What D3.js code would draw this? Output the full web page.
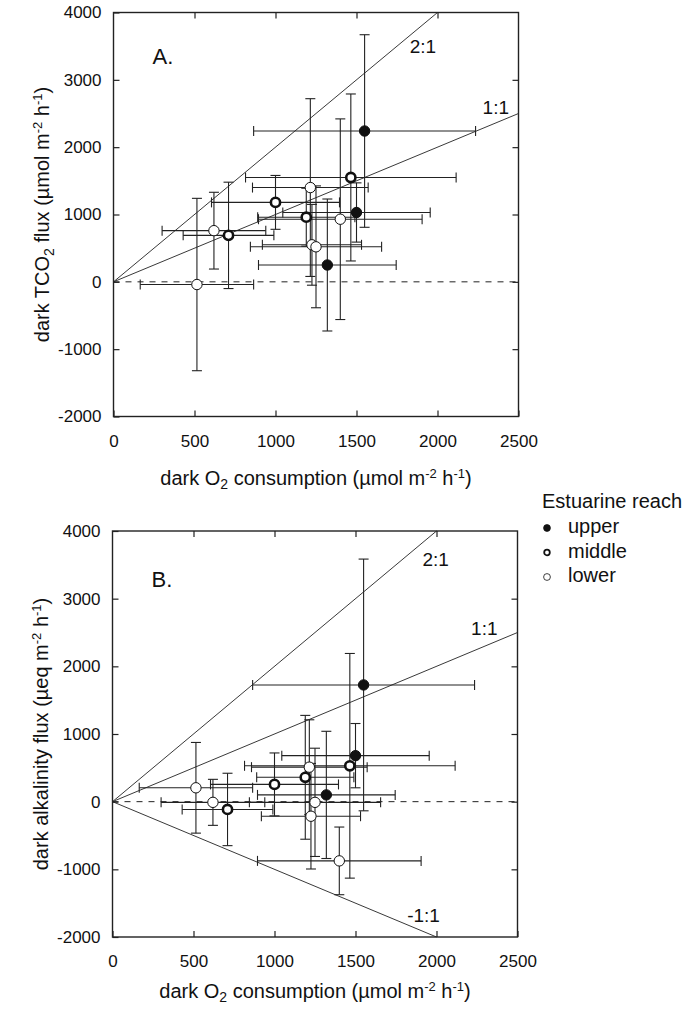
<!DOCTYPE html>
<html>
<head>
<meta charset="utf-8">
<script src="https://cdn.jsdelivr.net/npm/d3@7"></script>
<style>
  body { margin: 0; background: #fff; }
  svg { font-family: "Liberation Sans", Arial, sans-serif; }
  .tick text { font-size: 17px; fill: #111; }
</style>
</head>
<body>
<svg id="chart" width="700" height="1011"></svg>
<script>
// stations: estuarine reach, dark O2 consumption (mean, sd), TCO2 flux and alkalinity flux (mean, sd)
const reach = ["upper", "upper", "upper", "middle", "middle", "middle", "middle", "lower", "lower", "lower", "lower", "lower", "lower"];
const o2 = [1550, 1500, 1320, 1465, 1000, 1190, 710, 1215, 1400, 620, 1225, 1250, 515];
const o2Sd = [685, 455, 425, 650, 395, 300, 280, 357, 505, 320, 306, 405, 350];
const tco2 = [2240, 1030, 250, 1550, 1180, 960, 690, 1400, 930, 760, 550, 520, -40];
const tco2Sd = [1430, 440, 980, 1240, 400, 430, 790, 1320, 1490, 570, 600, 905, 1280];
const alk = [1725, 680, 100, 530, 255, 360, -115, 510, -875, -10, -215, -10, 205];
const alkSd = [1860, 475, 940, 1660, 465, 915, 535, 700, 500, 340, 780, 800, 670];

const xTicks = [0, 500, 1000, 1500, 2000, 2500];
const yTicks = [4000, 3000, 2000, 1000, 0, -1000, -2000];
const reachNames = ["upper", "middle", "lower"];

const svg = d3.select("#chart");

const markStyle = {
    upper: { fill: "#111", stroke: "#111", sw: 1 },
    middle: { fill: "#fff", stroke: "#111", sw: 2.6 },
    lower: { fill: "#fff", stroke: "#111", sw: 1 }
};

// plain hyphen for negatives, like the original figure
const fmt = d => String(d);

function drawPanel(cfg) {
    let vis = {};
    vis.width = 405;
    vis.height = cfg.height;

    vis.chart = svg.append("g").attr("transform", `translate(${cfg.left},${cfg.top})`);

    vis.xScale = d3.scaleLinear().domain([0, 2500]).range([0, vis.width]);
    vis.yScale = d3.scaleLinear().domain([-2000, 4000]).range([vis.height, 0]);

    // axes with inward ticks on all four sides
    vis.chart.append("g")
        .attr("transform", `translate(0,${vis.height})`)
        .call(d3.axisBottom(vis.xScale).tickValues(xTicks).tickSize(-6).tickPadding(18).tickFormat(fmt))
        .call(g => g.select(".domain").remove());
    vis.chart.append("g")
        .call(d3.axisTop(vis.xScale).tickValues(xTicks.slice(1, -1)).tickSize(-6).tickFormat(""))
        .call(g => g.select(".domain").remove());
    vis.chart.append("g")
        .call(d3.axisLeft(vis.yScale).tickValues(yTicks).tickSize(-6).tickPadding(12).tickFormat(fmt))
        .call(g => g.select(".domain").remove());
    vis.chart.append("g")
        .attr("transform", `translate(${vis.width},0)`)
        .call(d3.axisRight(vis.yScale).tickValues(yTicks.slice(1, -1)).tickSize(-6).tickFormat(""))
        .call(g => g.select(".domain").remove());
    vis.chart.selectAll(".tick line").attr("stroke", "#222").attr("stroke-width", 1.2);

    vis.chart.append("rect")
        .attr("width", vis.width).attr("height", vis.height)
        .attr("fill", "none").attr("stroke", "#222").attr("stroke-width", 1.4);

    // zero line
    vis.chart.append("line")
        .attr("x1", vis.xScale(0)).attr("x2", vis.xScale(2500))
        .attr("y1", vis.yScale(0)).attr("y2", vis.yScale(0))
        .attr("stroke", "#222").attr("stroke-width", 1)
        .attr("stroke-dasharray", "6,6");

    // ratio lines
    cfg.ratios.forEach(r => {
        vis.chart.append("line")
            .attr("x1", vis.xScale(0)).attr("y1", vis.yScale(0))
            .attr("x2", vis.xScale(r.end[0])).attr("y2", vis.yScale(r.end[1]))
            .attr("stroke", "#222").attr("stroke-width", 0.9);
        vis.chart.append("text")
            .attr("x", vis.xScale(r.label[0])).attr("y", vis.yScale(r.label[1]))
            .attr("text-anchor", "middle").attr("dy", "0.35em")
            .attr("font-size", 19).attr("fill", "#111")
            .text(r.text);
    });

    vis.chart.append("text")
        .attr("x", 39).attr("y", cfg.tagY)
        .attr("font-size", 22).attr("fill", "#111")
        .text(cfg.tag);

    // error bars
    let cap = 5;
    let bars = vis.chart.append("g").attr("stroke", "#222").attr("stroke-width", 1.1);
    o2.forEach((xv, i) => {
        let yv = cfg.yVals[i], ys = cfg.ySd[i], xs = o2Sd[i];
        let cx = vis.xScale(xv), cy = vis.yScale(yv);
        let xl = vis.xScale(xv - xs), xr = vis.xScale(xv + xs);
        let yt = vis.yScale(yv + ys), yb = vis.yScale(yv - ys);
        bars.append("line").attr("x1", xl).attr("x2", xr).attr("y1", cy).attr("y2", cy);
        bars.append("line").attr("x1", xl).attr("x2", xl).attr("y1", cy - cap).attr("y2", cy + cap);
        bars.append("line").attr("x1", xr).attr("x2", xr).attr("y1", cy - cap).attr("y2", cy + cap);
        bars.append("line").attr("x1", cx).attr("x2", cx).attr("y1", yt).attr("y2", yb);
        bars.append("line").attr("x1", cx - cap).attr("x2", cx + cap).attr("y1", yt).attr("y2", yt);
        bars.append("line").attr("x1", cx - cap).attr("x2", cx + cap).attr("y1", yb).attr("y2", yb);
    });

    // points
    vis.chart.selectAll(".pt")
        .data(o2.map((xv, i) => ({ x: xv, y: cfg.yVals[i], reach: reach[i] })))
        .join("circle")
        .attr("class", "pt")
        .attr("cx", d => vis.xScale(d.x))
        .attr("cy", d => vis.yScale(d.y))
        .attr("r", d => d.reach == "middle" ? 4.6 : 5.2)
        .attr("fill", d => markStyle[d.reach].fill)
        .attr("stroke", d => markStyle[d.reach].stroke)
        .attr("stroke-width", d => markStyle[d.reach].sw);

    // axis titles
    vis.chart.append("text")
        .attr("x", vis.width / 2).attr("y", vis.height + cfg.xTitleGap)
        .attr("text-anchor", "middle").attr("font-size", 20).attr("fill", "#111")
        .html('dark O<tspan font-size="14" dy="4">2</tspan><tspan dy="-4"> consumption (µmol m</tspan><tspan font-size="13" dy="-7">-2</tspan><tspan dy="7"> h</tspan><tspan font-size="13" dy="-7">-1</tspan><tspan dy="7">)</tspan>');

    vis.chart.append("text")
        .attr("transform", `translate(-65,${vis.height / 2}) rotate(-90)`)
        .attr("text-anchor", "middle").attr("font-size", 20).attr("fill", "#111")
        .html(cfg.yLabel);

    return vis;
}

drawPanel({
    left: 113.5, top: 12.5, height: 404, xTitleGap: 68,
    tag: "A.", tagY: 51,
    yVals: tco2, ySd: tco2Sd,
    ratios: [
        { end: [2000, 4000], label: [1910, 3490], text: "2:1" },
        { end: [2500, 2500], label: [2360, 2590], text: "1:1" }
    ],
    yLabel: 'dark TCO<tspan font-size="14" dy="5">2</tspan><tspan dy="-5"> flux (µmol m</tspan><tspan font-size="13" dy="-7">-2</tspan><tspan dy="7"> h</tspan><tspan font-size="13" dy="-7">-1</tspan><tspan dy="7">)</tspan>'
});

drawPanel({
    left: 112.5, top: 531, height: 406, xTitleGap: 61,
    tag: "B.", tagY: 56,
    yVals: alk, ySd: alkSd,
    ratios: [
        { end: [2000, 4000], label: [1995, 3575], text: "2:1" },
        { end: [2500, 2500], label: [2295, 2560], text: "1:1" },
        { end: [2000, -2000], label: [1920, -1680], text: "-1:1" }
    ],
    yLabel: 'dark alkalinity flux (µeq m<tspan font-size="13" dy="-7">-2</tspan><tspan dy="7"> h</tspan><tspan font-size="13" dy="-7">-1</tspan><tspan dy="7">)</tspan>'
});

// legend
let legend = svg.append("g").attr("transform", "translate(542,508)");
legend.append("text").attr("font-size", 20).attr("fill", "#111").text("Estuarine reach");
reachNames.forEach((r, i) => {
    let y = 25 + i * 24.5;
    legend.append("circle")
        .attr("cx", 5).attr("cy", y - 5)
        .attr("r", r == "middle" ? 2.8 : 3.4)
        .attr("fill", markStyle[r].fill)
        .attr("stroke", markStyle[r].stroke)
        .attr("stroke-width", r == "middle" ? 1.8 : 0.8);
    legend.append("text").attr("x", 26).attr("y", y).attr("font-size", 20).attr("fill", "#111").text(r);
});
</script>
</body>
</html>
